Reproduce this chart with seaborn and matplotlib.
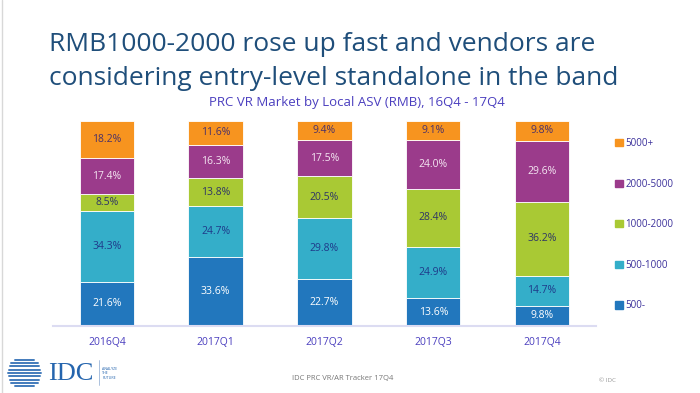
import numpy as np
import pandas as pd
import seaborn as sns
import matplotlib.pyplot as plt
from matplotlib.lines import Line2D
from matplotlib.patches import Rectangle

# DATA
quarters = ["2016Q4", "2017Q1", "2017Q2", "2017Q3", "2017Q4"]
bands = ["500-", "500-1000", "1000-2000", "2000-5000", "5000+"]
share_500_less = [21.6, 33.6, 22.7, 13.6, 9.8]
share_500_1000 = [34.3, 24.7, 29.8, 24.9, 14.7]
share_1000_2000 = [8.5, 13.8, 20.5, 28.4, 36.2]
share_2000_5000 = [17.4, 16.3, 17.5, 24.0, 29.6]
share_5000_plus = [18.2, 11.6, 9.4, 9.1, 9.8]

series = [share_500_less, share_500_1000, share_1000_2000, share_2000_5000, share_5000_plus]
colors = ["#2277BD", "#34AEC9", "#A9C934", "#9B3B8B", "#F7941F"]
label_colors = ["#FFFFFF", "#1F3A8A", "#2E3566", "#F4E6F2", "#4A3168"]

sns.set_theme(style="white")
plt.rcParams['font.family'] = ['Open Sans', 'DejaVu Sans']

fig = plt.figure(figsize=(7, 3.93), dpi=100)
ax = fig.add_axes([0.075, 0.1705, 0.777, 0.5216])

# stacked bars, bottom up
bottom = np.zeros(len(quarters))
for vals, col, lcol in zip(series, colors, label_colors):
    sns.barplot(x=quarters, y=vals, bottom=bottom, color=col, width=0.5,
                edgecolor="white", linewidth=0.6, ax=ax, saturation=1)
    ax.bar_label(ax.containers[-1], labels=[f"{v:.1f}%" for v in vals],
                 label_type="center", color=lcol, fontsize=7.5)
    bottom = bottom + np.array(vals)

ax.set_xlim(-0.5, 4.5)
ax.set_ylim(0, 100)
ax.set_yticks([])
ax.set_xlabel("")
ax.set_ylabel("")
for s in ["top", "right", "left"]:
    ax.spines[s].set_visible(False)
ax.spines["bottom"].set_color("#DCDCF2")
ax.spines["bottom"].set_linewidth(1.5)
ax.tick_params(axis="x", length=0, pad=8, labelsize=7.5, labelcolor="#4B3FBF")

# legend on the right, top to bottom
handles = [Rectangle((0, 0), 1, 1, color=c) for c in colors[::-1]]
leg = fig.legend(handles, bands[::-1], loc="upper left", bbox_to_anchor=(0.866, 0.671),
                 frameon=False, fontsize=7, handlelength=0.8, handleheight=0.8,
                 handletextpad=0.25, labelspacing=3.04)
for t in leg.get_texts():
    t.set_color("#3A2F9A")

# titles
fig.text(0.07, 0.887, "RMB1000-2000 rose up fast and vendors are", fontsize=19,
         color="#1F4E7A", va="center")
fig.text(0.07, 0.800, "considering entry-level standalone in the band", fontsize=19,
         color="#1F4E7A", va="center")
fig.text(0.51, 0.738, "PRC VR Market by Local ASV (RMB), 16Q4 - 17Q4", fontsize=9.5,
         color="#4B3FBF", ha="center", va="center")

# footer
fig.text(0.49, 0.038, "IDC PRC VR/AR Tracker 17Q4", fontsize=5.5, color="#777777",
         ha="center", va="center")
fig.text(0.868, 0.033, "\u00a9 IDC", fontsize=4.5, color="#999999", ha="center", va="center")

# IDC logo
for i in range(9):
    yy = 0.085 - i * 0.0085
    half = np.sqrt(max(0.0, 1 - ((i - 4) / 4.6) ** 2)) * 0.018
    fig.add_artist(Line2D([0.04 - half - 0.01, 0.04 + half], [yy, yy], color="#2E6DB4",
                          lw=1.4, alpha=0.9))
fig.text(0.068, 0.048, "IDC", fontsize=19, family="Liberation Serif", color="#2565AE",
         va="center")
fig.add_artist(Line2D([0.141, 0.141], [0.02, 0.085], color="#8AA8D0", lw=0.5))
fig.text(0.146, 0.05, "ANALYZE\nTHE\nFUTURE", fontsize=2.6, color="#2565AE",
         va="center", linespacing=1.2)

# faint left border
fig.add_artist(Line2D([0.003, 0.003], [0, 1], color="#D8D8D8", lw=1))

fig.savefig("out.png", dpi=100)
